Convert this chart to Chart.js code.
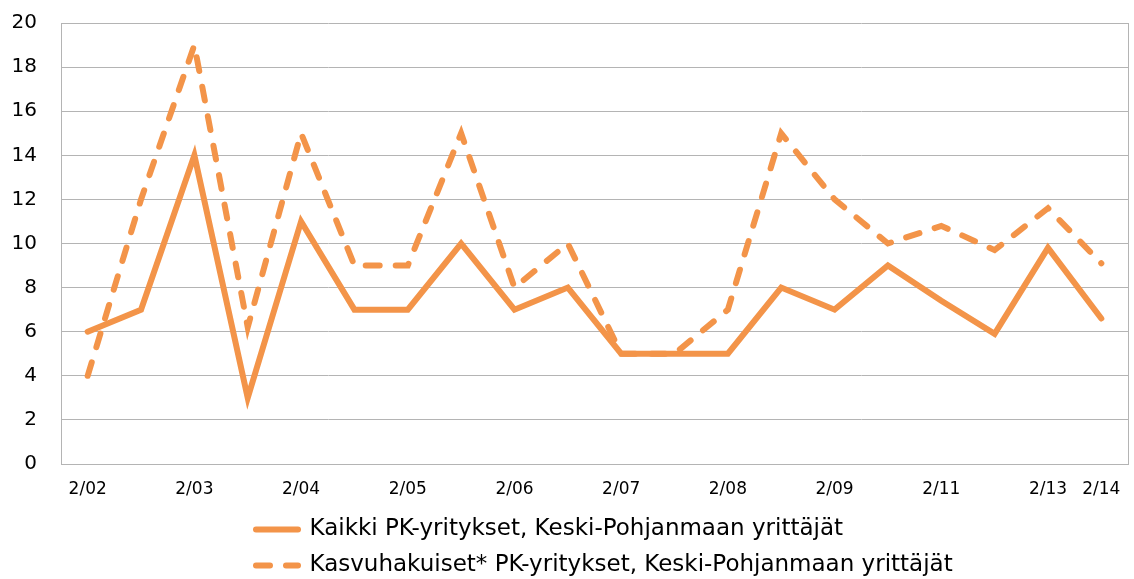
<!DOCTYPE html>
<html>
<head>
<meta charset="utf-8">
<script src="https://cdn.jsdelivr.net/npm/chart.js@4/dist/chart.umd.min.js"></script>
<style>
  html, body { margin: 0; padding: 0; background: #fff; }
  #wrap { width: 1134px; height: 579px; }
</style>
</head>
<body>
<div id="wrap"><canvas id="chart"></canvas></div>
<script>
// Data
const periods = ['2/02', '', '2/03', '', '2/04', '', '2/05', '', '2/06', '', '2/07', '', '2/08', '', '2/09', '', '2/11', '', '2/13', '2/14'];
const allSme = [6, 7, 14, 3, 11, 7, 7, 10, 7, 8, 5, 5, 5, 8, 7, 9, 7.4, 5.9, 9.8, 6.6];
const growthSme = [4, 12, 19, 6.2, 15, 9, 9, 15, 8, 10, 5, 5, 7, 15, 12, 10, 10.8, 9.7, 11.6, 9.1];
const seriesNames = [
    'Kaikki PK-yritykset, Keski-Pohjanmaan yrittäjät',
    'Kasvuhakuiset* PK-yritykset, Keski-Pohjanmaan yrittäjät'
];
const yMin = 0;
const yMax = 20;
const yStep = 2;

const orange = '#F39449';
const gridGray = '#B4B4B4';
const fontFamily = "'DejaVu Sans', Verdana, sans-serif";

// Legend in the original is left aligned under the plot, not centered
const legendShift = {
    id: 'legendShift',
    afterLayout(chart) {
        const legend = chart.legend;
        legend.left = 243;
        legend.top += 8;
        legend.bottom += 8;
    }
};

const ctx = document.getElementById('chart');
new Chart(ctx, {
    type: 'line',
    data: {
        labels: periods,
        datasets: [
            {
                label: seriesNames[0],
                data: allSme,
                borderColor: orange,
                backgroundColor: orange,
                borderWidth: 6,
                borderCapStyle: 'round',
                pointRadius: 0,
                tension: 0,
                fill: false
            },
            {
                label: seriesNames[1],
                data: growthSme,
                borderColor: orange,
                backgroundColor: orange,
                borderWidth: 6,
                borderDash: [14, 16],
                borderCapStyle: 'round',
                pointRadius: 0,
                tension: 0,
                fill: false
            }
        ]
    },
    options: {
        responsive: true,
        maintainAspectRatio: false,
        animation: false,
        layout: {
            padding: { left: 12, right: 6, top: 0, bottom: 0 }
        },
        plugins: {
            legend: {
                position: 'bottom',
                align: 'start',
                labels: {
                    usePointStyle: true,
                    pointStyle: 'line',
                    pointStyleWidth: 42,
                    padding: 13,
                    color: '#000',
                    font: { family: fontFamily, size: 23 },
                    // point-style legend items don't pick up the line dash, copy it from the dataset
                    generateLabels(chart) {
                        const items = Chart.defaults.plugins.legend.labels.generateLabels(chart);
                        items.forEach((item, i) => {
                            const ds = chart.data.datasets[i];
                            item.lineDash = ds.borderDash || [];
                            item.lineWidth = ds.borderWidth;
                            item.lineCap = 'round';
                            item.strokeStyle = ds.borderColor;
                        });
                        return items;
                    }
                }
            },
            tooltip: { enabled: false }
        },
        scales: {
            x: {
                offset: true,
                grid: { display: false, drawTicks: false },
                border: { display: true, color: gridGray, width: 1 },
                ticks: {
                    autoSkip: false,
                    maxRotation: 0,
                    padding: 15,
                    color: '#000',
                    font: { family: fontFamily, size: 17 }
                },
                afterFit(scale) {
                    scale.height = 33;
                    scale.paddingLeft = 0;
                    scale.paddingRight = 0;
                }
            },
            y: {
                min: yMin,
                max: yMax,
                grid: { color: gridGray, lineWidth: 1, drawTicks: false },
                border: { display: true, color: gridGray, width: 1 },
                ticks: {
                    stepSize: yStep,
                    padding: 24,
                    color: '#000',
                    font: { family: fontFamily, size: 20 }
                },
                afterFit(scale) {
                    scale.width = 49;
                    scale.paddingTop = 23;
                }
            },
            yRight: {
                position: 'right',
                min: yMin,
                max: yMax,
                grid: { display: false, drawTicks: false },
                border: { display: true, color: gridGray, width: 1 },
                ticks: { display: false }
            }
        }
    },
    plugins: [legendShift]
});
</script>
</body>
</html>
